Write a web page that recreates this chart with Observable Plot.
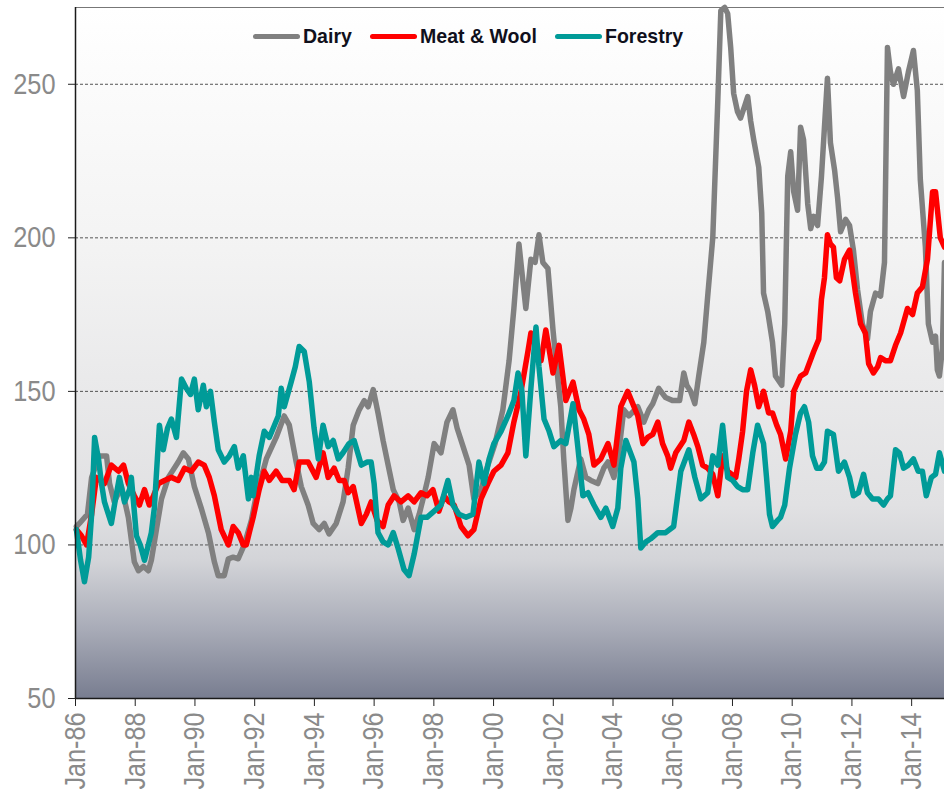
<!DOCTYPE html>
<html><head><meta charset="utf-8">
<script src="https://cdn.jsdelivr.net/npm/d3@7"></script>
<script src="https://cdn.jsdelivr.net/npm/@observablehq/plot@0.6"></script>
<style>
body{margin:0;background:#fff;}
#chart{position:relative;width:944px;height:791px;overflow:hidden;}
.lg{position:absolute;top:24px;font-family:"Liberation Sans",Arial,sans-serif;font-weight:bold;font-size:21px;color:#10101c;line-height:24px;white-space:nowrap;transform:scaleX(0.93);transform-origin:0 0;}
.sw{position:absolute;top:34px;height:5px;width:47px;border-radius:3px;}
</style></head><body><div id="chart"></div>
<script>
const seriesNames = ["Dairy", "Meat & Wool", "Forestry"];
const seriesColors = ["#808080", "#ff0000", "#009b98"];
const xTicks = [1986,1988,1990,1992,1994,1996,1998,2000,2002,2004,2006,2008,2010,2012,2014];
const yTicks = [50,100,150,200,250];
const gridValues = [100,150,200,250];

const dairy = [[1986.03,106],[1986.13,107],[1986.40,110],[1986.54,122],[1986.80,129],[1987.04,129],[1987.14,120],[1987.30,114],[1987.54,119],[1987.77,109],[1987.97,94.5],[1988.11,91.6],[1988.28,93],[1988.44,91.6],[1988.54,95],[1988.71,105],[1988.88,115],[1989.11,122],[1989.44,127],[1989.61,130],[1989.78,128],[1989.98,119],[1990.21,112],[1990.45,104],[1990.65,94.5],[1990.78,90],[1990.98,90],[1991.12,95.5],[1991.28,96],[1991.45,95.5],[1991.65,100],[1991.89,108],[1992.05,116],[1992.39,128],[1992.72,135],[1992.99,142],[1993.16,139],[1993.39,127],[1993.56,119],[1993.79,113],[1993.96,107],[1994.16,105],[1994.33,107],[1994.49,103.6],[1994.73,107],[1994.96,114],[1995.13,125],[1995.30,139],[1995.50,144],[1995.67,147],[1995.80,145],[1995.97,150.6],[1996.13,143],[1996.30,134],[1996.47,126],[1996.64,118],[1996.84,114],[1996.97,108],[1997.14,112],[1997.34,105],[1997.51,110],[1997.64,115],[1997.81,122],[1998.01,133],[1998.24,130],[1998.44,140],[1998.64,144],[1998.78,138],[1998.98,132],[1999.18,126],[1999.34,115],[1999.58,118],[1999.81,126],[2000.05,133],[2000.31,144],[2000.52,160],[2000.68,177],[2000.85,198],[2000.98,186],[2001.08,177],[2001.25,193],[2001.39,192],[2001.52,201],[2001.65,192],[2001.82,190],[2001.99,170],[2002.09,160],[2002.25,145],[2002.35,128],[2002.49,108],[2002.59,112],[2002.69,118],[2002.92,128],[2003.09,122],[2003.26,121],[2003.49,120],[2003.69,125],[2003.83,127],[2004.03,122],[2004.19,130],[2004.36,144],[2004.53,142],[2004.83,145],[2005.03,140],[2005.20,144],[2005.33,146],[2005.53,151],[2005.76,148],[2006.00,147],[2006.23,147],[2006.37,156],[2006.47,152],[2006.60,150],[2006.74,146],[2006.87,155],[2007.04,166],[2007.17,181],[2007.34,200],[2007.51,245],[2007.61,274],[2007.74,275],[2007.84,273],[2007.94,262],[2008.04,247],[2008.17,241],[2008.27,239],[2008.41,243],[2008.51,246],[2008.61,238],[2008.71,232],[2008.88,223],[2008.98,208],[2009.04,182],[2009.18,176],[2009.34,166],[2009.44,155],[2009.65,152],[2009.75,172],[2009.85,220],[2009.95,228],[2010.05,215],[2010.18,209],[2010.28,236],[2010.38,232],[2010.52,211],[2010.62,203],[2010.72,207],[2010.85,204],[2010.98,220],[2011.08,236],[2011.18,252],[2011.28,231],[2011.42,222],[2011.52,213],[2011.62,202],[2011.79,206],[2011.92,204],[2012.05,196],[2012.19,183],[2012.35,172],[2012.52,167],[2012.62,176],[2012.79,182],[2012.96,181],[2013.09,192],[2013.19,262],[2013.29,254],[2013.39,250],[2013.56,255],[2013.73,246],[2013.89,254],[2014.06,261],[2014.19,248],[2014.29,219],[2014.46,197],[2014.56,172],[2014.70,166],[2014.80,168],[2014.86,157],[2014.93,155],[2015.03,164],[2015.10,192]];

const meatWool = [[1986.03,105],[1986.20,103],[1986.37,100],[1986.54,110],[1986.70,122],[1986.97,120],[1987.20,126],[1987.44,124],[1987.61,126],[1987.77,120],[1987.97,116],[1988.14,113],[1988.31,118],[1988.47,113],[1988.61,116],[1988.78,120],[1988.98,121],[1989.21,122],[1989.44,121],[1989.65,125],[1989.88,124],[1990.11,127],[1990.31,126],[1990.48,122],[1990.65,116],[1990.88,105],[1991.12,100],[1991.28,106],[1991.45,104],[1991.62,100],[1991.72,100],[1991.82,104],[1991.95,109],[1992.15,118],[1992.32,124],[1992.49,121],[1992.72,124],[1992.92,121],[1993.16,121],[1993.32,118],[1993.49,127],[1993.79,127],[1994.06,122],[1994.29,130],[1994.46,122],[1994.66,125],[1994.83,121],[1995.00,121],[1995.13,117],[1995.30,119],[1995.57,107],[1995.74,110],[1995.90,114],[1996.10,108],[1996.30,106],[1996.47,113],[1996.67,116],[1996.90,114],[1997.14,116],[1997.34,114],[1997.57,117],[1997.77,116],[1997.97,118],[1998.17,111],[1998.34,116],[1998.51,114],[1998.68,113],[1998.91,106],[1999.14,103],[1999.34,105],[1999.58,115],[1999.81,120],[2000.01,124],[2000.25,126],[2000.48,130],[2000.68,140],[2000.92,150],[2001.15,163],[2001.25,169],[2001.42,165],[2001.59,160],[2001.75,170],[2001.89,162],[2001.99,156],[2002.19,165],[2002.32,155],[2002.42,147],[2002.66,153],[2002.86,144],[2003.02,141],[2003.19,136],[2003.36,126],[2003.59,128],[2003.83,133],[2004.03,126],[2004.26,145],[2004.49,150],[2004.66,146],[2004.83,142],[2005.00,133],[2005.16,135],[2005.33,136],[2005.50,140],[2005.66,133],[2005.83,129],[2005.93,125],[2006.10,130],[2006.37,134],[2006.54,140],[2006.70,136],[2006.84,132],[2007.00,126],[2007.17,125],[2007.34,123],[2007.51,116],[2007.67,129],[2007.84,124],[2008.11,122],[2008.21,128],[2008.34,137],[2008.47,150],[2008.61,157],[2008.74,152],[2008.88,145],[2009.04,150],[2009.21,143],[2009.34,143],[2009.48,139],[2009.61,136],[2009.78,128],[2009.95,137],[2010.05,150],[2010.28,155],[2010.45,156],[2010.72,163],[2010.89,167],[2010.98,180],[2011.08,187],[2011.18,201],[2011.28,198],[2011.38,197],[2011.48,187],[2011.59,186],[2011.75,193],[2011.92,196],[2012.12,182],[2012.29,172],[2012.45,169],[2012.56,159],[2012.72,156],[2012.86,158],[2012.96,161],[2013.12,160],[2013.29,160],[2013.46,165],[2013.63,169],[2013.86,177],[2014.03,175],[2014.19,182],[2014.36,184],[2014.53,193],[2014.70,215],[2014.80,215],[2014.96,200],[2015.10,197]];

const forestry = [[1986.03,105],[1986.17,95],[1986.30,88],[1986.44,96],[1986.54,110],[1986.64,135],[1986.77,128],[1986.87,120],[1986.97,114],[1987.10,110],[1987.20,107],[1987.34,115],[1987.47,122],[1987.64,114],[1987.81,118],[1987.87,122],[1988.04,103],[1988.17,100],[1988.31,95],[1988.44,100],[1988.54,104],[1988.64,112],[1988.81,139],[1988.94,131],[1989.08,138],[1989.21,141],[1989.38,135],[1989.55,154],[1989.71,151],[1989.85,149],[1989.98,154],[1990.11,144],[1990.28,152],[1990.38,145],[1990.52,150],[1990.65,140],[1990.78,131],[1990.98,127],[1991.15,129],[1991.32,132],[1991.45,125],[1991.62,129],[1991.79,115],[1991.89,122],[1991.95,116],[1992.15,129],[1992.32,137],[1992.49,135],[1992.62,138],[1992.79,142],[1992.89,151],[1992.99,145],[1993.22,153],[1993.36,158],[1993.49,164.6],[1993.66,163],[1993.83,153],[1993.99,138],[1994.13,128],[1994.29,139],[1994.46,132],[1994.63,134],[1994.80,128],[1994.96,130],[1995.16,133],[1995.33,134],[1995.57,126],[1995.77,127],[1995.90,127],[1996.00,120],[1996.13,104],[1996.30,101],[1996.47,100],[1996.64,104],[1996.80,99],[1997.00,92],[1997.17,90],[1997.34,97],[1997.57,109],[1997.77,109],[1998.01,111],[1998.24,113],[1998.47,121],[1998.64,113],[1998.84,110],[1999.08,109],[1999.31,110],[1999.51,127],[1999.68,120],[1999.85,128],[2000.01,133],[2000.25,137],[2000.48,142],[2000.68,147],[2000.82,156],[2000.95,150],[2001.08,129],[2001.25,151],[2001.42,171],[2001.52,158],[2001.69,141],[2001.86,137],[2002.02,132],[2002.25,134],[2002.42,133],[2002.66,146],[2002.82,132],[2002.99,116],[2003.16,117],[2003.36,113],[2003.59,109],[2003.76,112],[2003.99,106],[2004.16,112],[2004.26,125],[2004.43,134],[2004.70,127],[2004.83,115],[2004.93,99],[2005.10,101],[2005.26,102],[2005.50,104],[2005.76,104],[2006.03,106],[2006.27,124],[2006.54,131],[2006.74,122],[2006.94,115],[2007.17,117],[2007.34,129],[2007.51,126],[2007.67,139],[2007.84,122],[2008.01,121],[2008.17,119],[2008.34,118],[2008.51,118],[2008.68,130],[2008.84,139],[2009.04,133],[2009.14,122],[2009.24,110],[2009.34,106],[2009.51,108],[2009.61,109],[2009.75,113],[2009.91,125],[2010.11,136],[2010.28,143],[2010.41,145],[2010.55,140],[2010.68,129],[2010.82,125],[2010.95,125],[2011.08,127],[2011.18,137],[2011.38,136],[2011.55,124],[2011.75,127],[2011.92,122],[2012.05,116],[2012.22,117],[2012.39,123],[2012.52,117],[2012.69,115],[2012.89,115],[2013.06,113],[2013.19,115],[2013.29,116],[2013.46,131],[2013.59,130],[2013.73,125],[2013.89,126],[2014.06,128],[2014.22,124],[2014.36,124],[2014.49,116],[2014.66,122],[2014.80,123],[2014.93,130],[2015.10,124]];

const seriesData = [dairy, meatWool, forestry];
const rows = seriesData.flatMap((arr, i) => arr.map(([t, v]) => ({series: seriesNames[i], t, v})));

const font = '"Liberation Sans",Arial,sans-serif';

const chart = Plot.plot({
  width: 944,
  height: 791,
  marginLeft: 75,
  marginRight: 0,
  marginTop: 7,
  marginBottom: 93,
  style: {fontFamily: font, background: "#fff", overflow: "hidden"},
  x: {type: "linear", domain: [1986, 2015.1]},
  y: {domain: [50, 275]},
  color: {domain: seriesNames, range: seriesColors},
  marks: [
    Plot.frame({fill: "url(#bggrad)", stroke: "none"}),
    Plot.ruleY(gridValues, {stroke: "#555", strokeWidth: 1, strokeDasharray: "3,2"}),
    Plot.ruleY([275], {stroke: "#777", strokeWidth: 1}),
    Plot.lineY(rows, {x: "t", y: "v", z: "series", stroke: "series", strokeWidth: 5.5, strokeLinejoin: "round", strokeLinecap: "round", curve: "linear"}),
    Plot.ruleX([1986], {stroke: "#1a1a1a", strokeWidth: 1.5}),
    Plot.ruleY([50], {stroke: "#1a1a1a", strokeWidth: 1.5}),
    Plot.axisY({ticks: yTicks, tickSize: 7, tickPadding: 13, fontSize: 29, stroke: "#222", fill: "#8a8a8a", label: null}),
    Plot.axisX({ticks: xTicks, tickSize: 8, tickPadding: 6, tickRotate: -90, fontSize: 29, stroke: "#222", fill: "#8a8a8a", label: null,
      tickFormat: d => "Jan-" + String(Math.round(d) % 100).padStart(2, "0")})
  ]
});

const svg = d3.select(chart);
const defs = svg.insert("defs", ":first-child");
const g = defs.append("linearGradient").attr("id", "bggrad").attr("x1", 0).attr("y1", 0).attr("x2", 0).attr("y2", 1);
[[0, "#ffffff"], [0.35, "#f3f3f3"], [0.72, "#e1e1e3"], [0.80, "#d3d4d8"], [0.9, "#a8abb7"], [1, "#787d90"]]
  .forEach(([o, c]) => g.append("stop").attr("offset", o).attr("stop-color", c));

const host = document.getElementById("chart");
host.appendChild(chart);

// condense axis labels to match the narrow face of the original
function condense(selector, k) {
  svg.selectAll(selector).each(function() {
    const L = this.getComputedTextLength();
    if (L > 0) {
      this.setAttribute("textLength", (L * k).toFixed(1));
      this.setAttribute("lengthAdjust", "spacingAndGlyphs");
    }
  });
}
condense('g[aria-label="y-axis tick label"] text', 0.875);
condense('g[aria-label="x-axis tick label"] text', 0.87);

const legendPos = [{sw: 253, tx: 303}, {sw: 370, tx: 420}, {sw: 555, tx: 605}];
seriesNames.forEach((name, i) => {
  const s = document.createElement("div");
  s.className = "sw";
  s.style.left = legendPos[i].sw + "px";
  s.style.background = seriesColors[i];
  host.appendChild(s);
  const t = document.createElement("div");
  t.className = "lg";
  t.style.left = legendPos[i].tx + "px";
  t.textContent = name;
  host.appendChild(t);
});
</script></body></html>
